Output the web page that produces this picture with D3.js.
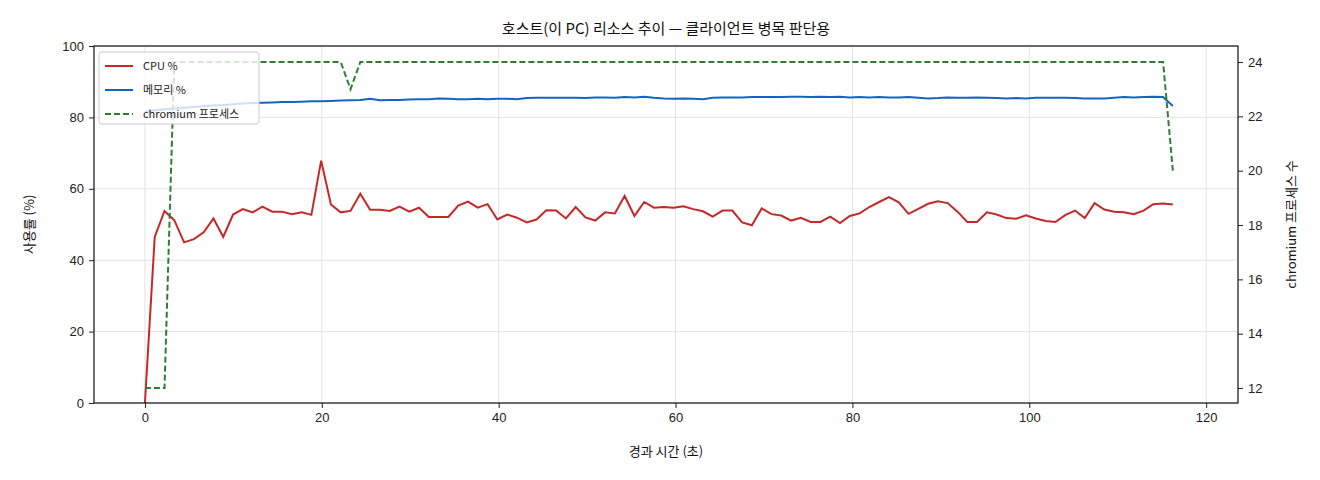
<!DOCTYPE html>
<html><head><meta charset="utf-8">
<script src="https://cdn.jsdelivr.net/npm/d3@7"></script>
<style>body{margin:0;background:#fff;font-family:"Noto Sans CJK KR","DejaVu Sans",sans-serif;}</style>
</head><body><div id="chart"></div>
<script>
// sample interval ~1.107 s
var step = 1.107;
var cpu = [0,46.5,53.8,51.2,45,45.9,47.8,51.7,46.5,52.8,54.3,53.4,55,53.6,53.6,52.9,53.4,52.7,67.9,55.6,
  53.4,53.8,58.6,54.1,54.1,53.8,55,53.6,54.7,52.1,52.1,52.1,55.3,56.4,54.7,55.7,51.4,52.8,51.9,50.6,
  51.4,54,53.9,51.7,54.9,52,51.1,53.4,53.1,58,52.4,56.3,54.7,54.9,54.7,55.1,54.3,53.7,52.2,53.9,
  53.9,50.6,49.8,54.5,52.9,52.5,51.1,51.9,50.7,50.7,52.2,50.4,52.4,53.1,54.9,56.3,57.7,56.2,53,54.4,
  55.8,56.5,56,53.6,50.7,50.7,53.4,52.8,51.8,51.6,52.6,51.7,51,50.7,52.6,53.9,51.8,56,54.2,53.6,
  53.4,52.9,53.9,55.7,55.9,55.6];
var mem = [81.5,82,82.3,82.5,82.7,82.9,83.1,83.3,83.5,83.7,83.9,84,84.1,84.2,84.3,84.3,84.4,84.5,84.5,84.6,
  84.7,84.8,84.9,85.2,84.8,84.9,84.9,85,85.1,85.1,85.3,85.2,85.1,85.1,85.2,85.1,85.2,85.2,85.1,85.4,
  85.5,85.5,85.5,85.5,85.5,85.4,85.6,85.6,85.5,85.7,85.6,85.8,85.5,85.3,85.2,85.3,85.2,85.1,85.5,85.6,
  85.6,85.6,85.7,85.7,85.7,85.7,85.8,85.8,85.7,85.8,85.7,85.8,85.6,85.7,85.6,85.7,85.6,85.6,85.7,85.5,
  85.3,85.4,85.6,85.5,85.5,85.6,85.5,85.4,85.3,85.4,85.3,85.5,85.5,85.5,85.5,85.4,85.3,85.3,85.3,85.5,
  85.7,85.6,85.7,85.8,85.7,83.2];
var procs = [12,12,12,24,24,24,24,24,24,24,24,24,24,24,24,24,24,24,24,24,24,23,24,24,24,24,24,24,24,24,
  24,24,24,24,24,24,24,24,24,24,24,24,24,24,24,24,24,24,24,24,24,24,24,24,24,24,24,24,24,24,
  24,24,24,24,24,24,24,24,24,24,24,24,24,24,24,24,24,24,24,24,24,24,24,24,24,24,24,24,24,24,
  24,24,24,24,24,24,24,24,24,24,24,24,24,24,24,20];
var xTicks = [0,20,40,60,80,100,120];
var yTicks = [0,20,40,60,80,100];
var y2Ticks = [12,14,16,18,20,22,24];
var series = [
  {name:"CPU %", vals:cpu, color:"#c62828", axis:"left", dash:null},
  {name:"메모리 %", vals:mem, color:"#1565c0", axis:"left", dash:null},
  {name:"chromium 프로세스", vals:procs, color:"#2e7d32", axis:"right", dash:"6,3"}
];

var W = 1320, H = 480;
var margin = {top: 46, right: 82, bottom: 77, left: 94},
    width = W - margin.left - margin.right,
    height = H - margin.top - margin.bottom;

var svg = d3.select("#chart").append("svg").attr("width", W).attr("height", H)
  .style("font-family", '"Noto Sans CJK KR","DejaVu Sans",sans-serif');
var g = svg.append("g").attr("transform", "translate(" + margin.left + "," + margin.top + ")");

var xScale = d3.scaleLinear().domain([-5.76, 123.6]).range([0, width]);
var yScale = d3.scaleLinear().domain([0, 100]).range([height, 0]);
var y2Scale = d3.scaleLinear().domain([11.45, 24.59]).range([height, 0]);

// grid
g.selectAll(".gx").data(xTicks).enter().append("line")
  .attr("x1", d => xScale(d)).attr("x2", d => xScale(d)).attr("y1", 0).attr("y2", height)
  .attr("stroke", "#e3e3e3");
g.selectAll(".gy").data(yTicks).enter().append("line")
  .attr("x1", 0).attr("x2", width).attr("y1", d => yScale(d)).attr("y2", d => yScale(d))
  .attr("stroke", "#e3e3e3");

// lines
series.forEach(s => {
  var ys = s.axis === "left" ? yScale : y2Scale;
  var line = d3.line().x((d, i) => xScale(i * step)).y(d => ys(d));
  g.append("path").datum(s.vals).attr("d", line).attr("fill", "none")
    .attr("stroke", s.color).attr("stroke-width", 2)
    .attr("stroke-dasharray", s.dash);
});

// axes
function styleAxis(sel) {
  sel.selectAll("text").attr("font-size", 13).attr("fill", "#222");
  sel.selectAll(".tick line").attr("stroke", "#222");
  sel.select(".domain").remove();
}
g.append("g").attr("transform", "translate(0," + height + ")")
  .call(d3.axisBottom(xScale).tickValues(xTicks).tickSize(5).tickPadding(5)).call(styleAxis);
g.append("g").call(d3.axisLeft(yScale).tickValues(yTicks).tickSize(5).tickPadding(5)).call(styleAxis);
g.append("g").attr("transform", "translate(" + width + ",0)")
  .call(d3.axisRight(y2Scale).tickValues(y2Ticks).tickSize(5).tickPadding(5)).call(styleAxis);
g.append("rect").attr("width", width).attr("height", height).attr("fill", "none").attr("stroke", "#111").attr("stroke-width", 1.2);

// labels
svg.append("text").attr("x", margin.left + width / 2).attr("y", 34).attr("text-anchor", "middle")
  .attr("font-size", 15).attr("fill", "#111").text("호스트(이 PC) 리소스 추이 — 클라이언트 병목 판단용");
svg.append("text").attr("x", margin.left + width / 2).attr("y", 456).attr("text-anchor", "middle")
  .attr("font-size", 13).attr("fill", "#111").text("경과 시간 (초)");
svg.append("text").attr("transform", "translate(34," + (margin.top + height / 2) + ") rotate(-90)")
  .attr("text-anchor", "middle").attr("font-size", 13).attr("fill", "#111").text("사용률 (%)");
svg.append("text").attr("transform", "translate(1296," + (margin.top + height / 2) + ") rotate(-90)")
  .attr("text-anchor", "middle").attr("font-size", 13).attr("fill", "#111").text("chromium 프로세스 수");

// legend
var lg = g.append("g").attr("transform", "translate(5,6)");
lg.append("rect").attr("width", 160).attr("height", 72).attr("rx", 3)
  .attr("fill", "rgba(255,255,255,0.8)").attr("stroke", "#ccc");
series.forEach((s, i) => {
  var row = lg.append("g").attr("transform", "translate(6," + (14 + i * 24) + ")");
  row.append("line").attr("x1", 0).attr("x2", 28).attr("stroke", s.color).attr("stroke-width", 2)
    .attr("stroke-dasharray", s.dash);
  row.append("text").attr("x", 38).attr("y", 4).attr("font-size", 11).attr("fill", "#222").text(s.name);
});
</script></body></html>
